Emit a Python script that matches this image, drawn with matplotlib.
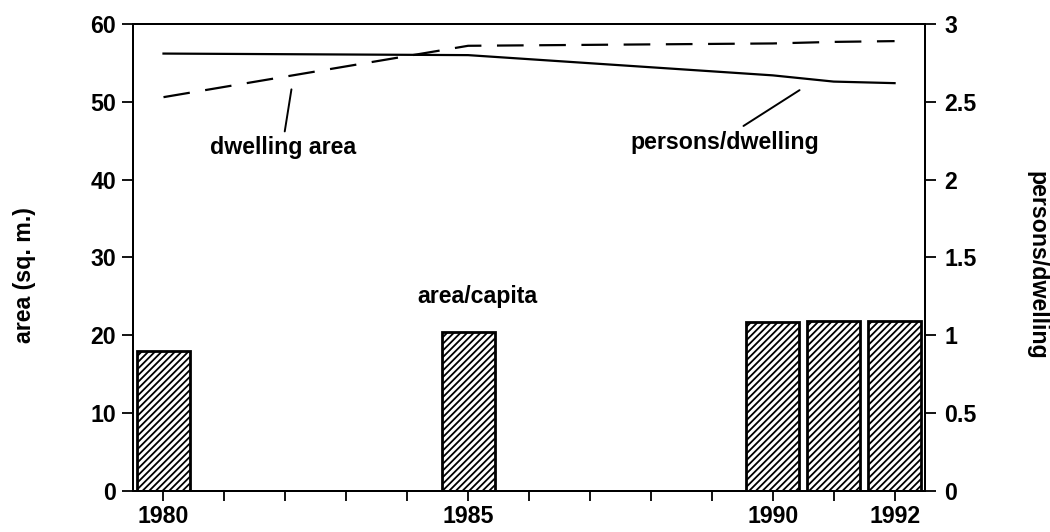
import numpy as np
import matplotlib
matplotlib.use("Agg")
import matplotlib.pyplot as plt

# data
years = [1980, 1985, 1990, 1991, 1992]
area_per_capita = [18.0, 20.4, 21.7, 21.8, 21.9]      # sq. m., bars (left axis)
dwelling_area = [50.6, 57.2, 57.5, 57.7, 57.8]        # sq. m., dashed line (left axis)
persons_per_dwelling = [2.81, 2.80, 2.67, 2.63, 2.62]  # solid line (right axis)

tick_years = list(range(1980, 1993))
labelled_years = [1980, 1985, 1990, 1992]

plt.rcParams["font.family"] = ["Liberation Sans", "DejaVu Sans"]
plt.rcParams["font.weight"] = "bold"
plt.rcParams["hatch.linewidth"] = 1.3
plt.rcParams["hatch.color"] = "black"
fs = 16.7

fig = plt.figure(figsize=(10.5, 5.32), dpi=100)
ax = fig.add_axes([0.1267, 0.0771, 0.881 - 0.1267, 0.9549 - 0.0771])
ax2 = ax.twinx()

# bars: area per capita
ax.bar(years, area_per_capita, width=0.87, color="white", edgecolor="black",
       linewidth=2.0, hatch="/////", zorder=2)

# dwelling area (dashed)
ax.plot(years, dwelling_area, color="black", linewidth=1.6, dashes=(12, 7), zorder=3)

# persons per dwelling (solid, right axis)
ax2.plot(years, persons_per_dwelling, color="black", linewidth=1.6, zorder=3)

ax.set_xlim(1979.5, 1992.5)
ax.set_ylim(0, 60)
ax2.set_ylim(0, 3)

ax.set_xticks(tick_years)
ax.set_xticklabels([str(y) if y in labelled_years else "" for y in tick_years])
ax.set_yticks(np.arange(0, 61, 10))
ax2.set_yticks(np.arange(0, 3.01, 0.5))
ax2.set_yticklabels(["0", "0.5", "1", "1.5", "2", "2.5", "3"])

for a in (ax, ax2):
    for sp in a.spines.values():
        sp.set_linewidth(1.4)
ax.tick_params(axis="x", direction="out", length=7, width=1.3, labelsize=fs, pad=3)
ax.tick_params(axis="y", direction="out", length=8, width=1.3, labelsize=fs, pad=4)
ax2.tick_params(axis="y", direction="out", length=8, width=1.3, labelsize=fs, pad=6)

# labels and leader lines
ax.text(1981.96, 44.1, "dwelling area", fontsize=fs, ha="center", va="center")
ax.annotate("", xy=(1982.1, 51.6), xytext=(1981.99, 46.2),
            arrowprops=dict(arrowstyle="-", color="black", lw=1.4, shrinkA=0, shrinkB=0))
ax.text(1989.21, 44.8, "persons/dwelling", fontsize=fs, ha="center", va="center")
ax.annotate("", xy=(1990.44, 51.5), xytext=(1989.52, 46.9),
            arrowprops=dict(arrowstyle="-", color="black", lw=1.4, shrinkA=0, shrinkB=0))
ax.text(1985.15, 25.0, "area/capita", fontsize=fs, ha="center", va="center")

fig.text(25 / 1050, 1 - 275 / 532, "area (sq. m.)", rotation=90, fontsize=fs,
         ha="center", va="center")
fig.text(1037 / 1050, 1 - 265 / 532, "persons/dwelling", rotation=-90, fontsize=fs,
         ha="center", va="center")

fig.savefig("out.png", dpi=100)
